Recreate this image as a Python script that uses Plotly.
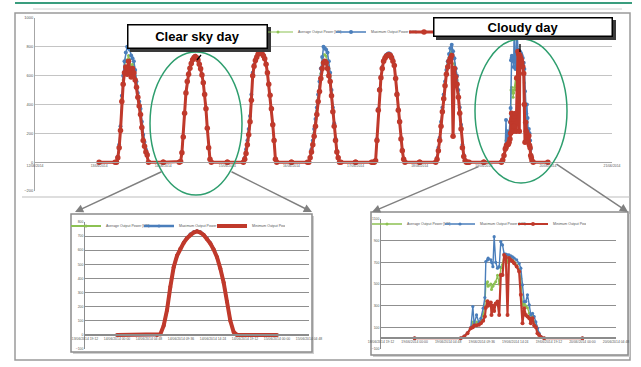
import datetime as dt
import plotly.graph_objects as go

W, H = 641, 367

# ---------------- data ----------------
AXIS_START = "2014-06-12"
AXIS_END = "2014-06-21"
DAY_DATES = ["2014-06-13", "2014-06-14", "2014-06-15", "2014-06-16",
             "2014-06-17", "2014-06-18", "2014-06-19"]
CLEAR_DATE = "2014-06-14"
CLOUDY_DATE = "2014-06-19"
SERIES_NAMES = ["Average Output Power [kW]", "Maximum Output Power [kW]",
                "Minimum Output Power [kW]"]
MAIN_Y_TICKS = [-200, 0, 200, 400, 600, 800, 1000]
CLEAR_Y_TICKS = [-100, 0, 100, 200, 300, 400, 500, 600, 700, 800]
CLOUDY_Y_TICKS = [-100, 100, 300, 500, 700, 900, 1100]

# half-hour grid used for the ordinary days (hours after midnight)
DAY_HOURS = [0, 6.0, 6.5, 7.0, 7.5, 8.0, 8.5, 9.0, 9.5, 10.0, 10.5, 11.0, 11.5,
             12.0, 12.5, 13.0, 13.5, 14.0, 14.5, 15.0, 15.5, 16.0, 16.5, 17.0,
             17.5, 18.0, 18.5, 24]

D1_MIN = [0, 0, 0, 30, 100, 220, 420, 540, 620, 660, 610, 700, 640, 590, 650, 620,
          570, 520, 450, 390, 330, 240, 150, 110, 70, 50, 0, 0]
D1_MAX = [0, 0, 0, 40, 120, 250, 460, 600, 700, 760, 800, 790, 780, 740, 720, 700,
          640, 560, 480, 420, 370, 280, 190, 140, 90, 60, 0, 0]
D1_AVG = [0, 0, 0, 35, 110, 235, 440, 570, 660, 710, 700, 740, 710, 660, 680, 660,
          600, 540, 465, 405, 350, 260, 170, 125, 80, 55, 0, 0]

D3_MIN = [0, 0, 20, 60, 120, 190, 280, 430, 600, 665, 705, 728, 748, 758, 760, 752,
          738, 718, 680, 620, 540, 465, 370, 260, 150, 20, 0, 0]
D3_MAX = [0, 0, 30, 90, 150, 230, 320, 470, 620, 675, 712, 735, 755, 765, 768, 758,
          745, 722, 684, 624, 545, 470, 375, 265, 155, 25, 0, 0]
D3_AVG = [0, 0, 25, 75, 135, 210, 300, 450, 610, 670, 708, 731, 751, 761, 764, 755,
          741, 720, 682, 622, 542, 467, 372, 262, 152, 22, 0, 0]

D4_MIN = [0, 0, 0, 30, 70, 120, 180, 250, 330, 420, 490, 580, 650, 690, 700, 690,
          650, 600, 560, 460, 350, 250, 150, 70, 30, 0, 0, 0]
D4_MAX = [0, 0, 0, 35, 90, 150, 230, 300, 380, 470, 560, 650, 730, 800, 790, 780,
          760, 700, 620, 500, 380, 270, 165, 80, 35, 0, 0, 0]
D4_AVG = [0, 0, 0, 32, 80, 135, 205, 275, 355, 445, 525, 615, 690, 745, 745, 735,
          705, 650, 590, 480, 365, 260, 158, 75, 32, 0, 0, 0]

D5_MIN = [0, 0, 0, 0, 10, 150, 360, 500, 585, 650, 700, 720, 735, 742, 745, 742,
          725, 700, 670, 580, 470, 360, 280, 160, 80, 20, 0, 0]
D5_MAX = [0, 0, 0, 0, 15, 160, 370, 510, 595, 660, 710, 730, 745, 752, 755, 750,
          735, 710, 678, 588, 478, 368, 288, 168, 88, 25, 0, 0]
D5_AVG = [0, 0, 0, 0, 12, 155, 365, 505, 590, 655, 705, 725, 740, 747, 750, 746,
          730, 705, 674, 584, 474, 364, 284, 164, 84, 22, 0, 0]

D6_MIN = [0, 0, 20, 80, 150, 250, 350, 440, 530, 610, 660, 700, 720, 740, 180, 650,
          590, 540, 450, 340, 230, 100, 40, 10, 0, 0, 0, 0]
D6_MAX = [0, 0, 30, 100, 170, 280, 380, 470, 560, 640, 700, 750, 790, 815, 770, 720,
          650, 600, 500, 380, 260, 120, 50, 15, 0, 0, 0, 0]
D6_AVG = [0, 0, 25, 90, 160, 265, 365, 455, 545, 625, 680, 725, 755, 778, 480, 685,
          620, 570, 475, 360, 245, 110, 45, 12, 0, 0, 0, 0]

# clear sky day (inset 1)
CLEAR_HOURS = [0, 6.0, 6.5, 7.0, 7.5, 8.0, 8.5, 9.0, 9.5, 10.0, 10.5, 11.0, 11.5,
               12.0, 12.5, 13.0, 13.5, 14.0, 14.5, 15.0, 15.5, 16.0, 16.5, 17.0,
               17.5, 18.0, 24]
CLEAR_MIN = [0, 0, 5, 65, 175, 340, 480, 560, 610, 652, 685, 710, 725, 733, 725, 708,
             680, 648, 605, 550, 470, 370, 235, 100, 20, 0, 0]
CLEAR_MAX = [0, 0, 6, 68, 180, 345, 486, 566, 616, 658, 691, 716, 731, 738, 731, 714,
             686, 654, 611, 556, 476, 376, 240, 104, 22, 0, 0]
CLEAR_AVG = [0, 0, 5, 66, 178, 343, 483, 563, 613, 655, 688, 713, 728, 736, 728, 711,
             683, 651, 608, 553, 473, 373, 238, 102, 21, 0, 0]

# cloudy day (inset 2)
CLOUDY_HOURS = [0, 6.6, 7.1, 7.57, 8.05, 8.33, 8.52, 8.86, 9.2, 9.48, 9.81, 10.05,
                10.19, 10.43, 10.52, 10.9, 11.0, 11.2, 11.38, 11.6, 11.86, 12.1,
                12.33, 12.57, 12.81, 13.05, 13.29, 13.5, 13.76, 14.0, 14.24, 14.6,
                14.95, 15.19, 15.43, 15.67, 15.9, 16.14, 16.4, 16.62, 16.86, 17.1,
                17.34, 17.57, 17.8, 18.05, 18.52, 24]
CLOUDY_MIN = [0, 0, 15, 46, 92, 100, 117, 120, 125, 138, 160, 200, 280, 340, 300, 330,
              215, 300, 250, 320, 338, 215, 584, 584, 768, 750, 215, 740, 722, 710,
              692, 661, 615, 400, 138, 277, 215, 200, 184, 138, 184, 117, 100, 46,
              30, 10, 0, 0]
CLOUDY_AVG = [0, 0, 18, 48, 95, 150, 120, 150, 132, 160, 220, 290, 500, 520, 480, 500,
              450, 480, 500, 520, 580, 500, 650, 680, 770, 760, 700, 750, 735, 720,
              705, 675, 630, 550, 300, 320, 300, 280, 230, 160, 200, 150, 120, 60,
              35, 12, 0, 0]
CLOUDY_MAX = [0, 0, 20, 50, 100, 292, 125, 215, 140, 184, 277, 375, 707, 722, 738, 723,
              700, 660, 937, 700, 646, 660, 891, 861, 778, 775, 770, 768, 760, 750,
              738, 722, 690, 646, 492, 338, 338, 400, 307, 215, 230, 200, 150, 92,
              46, 16, 0, 0]

# ---------------- helpers ----------------
def px(x):
    return x / W


def py(y):
    return 1 - y / H


def stamp(date_str, hours):
    d0 = dt.datetime.fromisoformat(date_str)
    return [d0 + dt.timedelta(hours=h) for h in hours]


COL_AVG = "#8CC152"
COL_MAX = "#4A7EBB"
COL_MIN = "#C0392B"
FONT = "Liberation Sans, Arial, sans-serif"

day_sets = [
    (DAY_DATES[0], DAY_HOURS, D1_AVG, D1_MAX, D1_MIN),
    (DAY_DATES[1], CLEAR_HOURS, CLEAR_AVG, CLEAR_MAX, CLEAR_MIN),
    (DAY_DATES[2], DAY_HOURS, D3_AVG, D3_MAX, D3_MIN),
    (DAY_DATES[3], DAY_HOURS, D4_AVG, D4_MAX, D4_MIN),
    (DAY_DATES[4], DAY_HOURS, D5_AVG, D5_MAX, D5_MIN),
    (DAY_DATES[5], DAY_HOURS, D6_AVG, D6_MAX, D6_MIN),
    (DAY_DATES[6], CLOUDY_HOURS, CLOUDY_AVG, CLOUDY_MAX, CLOUDY_MIN),
]
main_x, main_avg, main_max, main_min = [], [], [], []
for date, hrs, a, mx, mn in day_sets:
    main_x += stamp(date, hrs)
    main_avg += a
    main_max += mx
    main_min += mn

fig = go.Figure()


def add_series(x, ys, xa, ya, leg, widths, msizes):
    cols = [COL_AVG, COL_MAX, COL_MIN]
    for name, y, c, w, m in zip(SERIES_NAMES, ys, cols, widths, msizes):
        fig.add_trace(go.Scatter(
            x=x, y=y, name=name, mode="lines+markers",
            line=dict(color=c, width=w), marker=dict(color=c, size=m),
            xaxis=xa, yaxis=ya, legend=leg, legendgroup=leg + name,
            hoverinfo="skip"))


add_series(main_x, [main_avg, main_max, main_min], "x", "y", "legend",
           [1.2, 1.5, 3], [3, 4, 5.5])
cx = stamp(CLEAR_DATE, CLEAR_HOURS)
add_series(cx, [CLEAR_AVG, CLEAR_MAX, CLEAR_MIN], "x2", "y2", "legend2",
           [2, 2.5, 4], [3, 3, 4])
kx = stamp(CLOUDY_DATE, CLOUDY_HOURS)
add_series(kx, [CLOUDY_AVG, CLOUDY_MAX, CLOUDY_MIN], "x3", "y3", "legend3",
           [1.3, 1.4, 2.2], [3, 3.2, 4])

small = dict(family=FONT, size=3.4, color="#555555")
c0 = dt.datetime.fromisoformat(CLEAR_DATE)
k0 = dt.datetime.fromisoformat(CLOUDY_DATE)
step = dt.timedelta(hours=4.8)
span_end = dt.timedelta(hours=28.8)

layout = dict(
    template="none",
    width=W, height=H, margin=dict(l=0, r=0, t=0, b=0, autoexpand=False),
    paper_bgcolor="white", plot_bgcolor="rgba(0,0,0,0)",
    font=dict(family=FONT), hovermode=False,
    xaxis=dict(domain=[px(35), px(612)], type="date", automargin=False,
               range=[AXIS_START, AXIS_END], tick0=AXIS_START, dtick=86400000,
               tickformat="%d/%m/%Y", anchor="free", position=py(162),
               showline=True, linecolor="#a6a6a6", linewidth=1, showgrid=False,
               zeroline=False, ticks="", tickfont=small),
    yaxis=dict(domain=[py(191), py(18)], range=[-200, 1000], tickvals=MAIN_Y_TICKS,
               anchor="x", showline=True, linecolor="#a6a6a6", linewidth=1,
               automargin=False, showgrid=True, gridcolor="#c4c4c4", gridwidth=1,
               zeroline=False, ticks="", tickfont=dict(family=FONT, size=4, color="#555")),
    xaxis2=dict(domain=[px(85), px(309)], type="date", automargin=False,
                range=[c0 - step, c0 + span_end], tick0=c0 - step,
                dtick=17280000, tickformat="%d/%m/%Y %H:%M", anchor="free",
                position=py(335), showline=True, linecolor="#8c8c8c", linewidth=1.5,
                showgrid=False, zeroline=False, ticks="", tickfont=small),
    yaxis2=dict(domain=[py(349), py(222)], range=[-100, 800], tickvals=CLEAR_Y_TICKS,
                anchor="x2", showline=True, linecolor="#8c8c8c", linewidth=1,
                automargin=False, showgrid=True, gridcolor="#8f8f8f", gridwidth=1.3,
                zeroline=False, ticks="", tickfont=small),
    xaxis3=dict(domain=[px(381), px(616)], type="date", automargin=False,
                range=[k0 - step, k0 + span_end], tick0=k0 - step,
                dtick=17280000, tickformat="%d/%m/%Y %H:%M", anchor="free",
                position=py(338), showline=True, linecolor="#8c8c8c", linewidth=1.5,
                showgrid=False, zeroline=False, ticks="", tickfont=small),
    yaxis3=dict(domain=[py(349), py(219)], range=[-100, 1100], tickvals=CLOUDY_Y_TICKS,
                anchor="x3", showline=True, linecolor="#8c8c8c", linewidth=1,
                automargin=False, showgrid=True, gridcolor="#8f8f8f", gridwidth=1.3,
                zeroline=False, ticks="", tickfont=small),
)
for key, lx, ly in [("legend", 258, 32), ("legend2", 66, 226), ("legend3", 367, 224)]:
    layout[key] = dict(x=px(lx), y=py(ly), xanchor="left", yanchor="middle",
                       orientation="h", bgcolor="rgba(0,0,0,0)", borderwidth=0,
                       font=dict(family=FONT, size=3.5, color="#555"),
                       entrywidth=28, entrywidthmode="pixels", itemwidth=30)
fig.update_layout(**layout)

# ---------------- decorations ----------------
def rect(x0, y0, x1, y1, line=None, fill=None, layer="above"):
    fig.add_shape(type="rect", xref="paper", yref="paper",
                  x0=px(x0), x1=px(x1), y0=py(y1), y1=py(y0),
                  line=line or dict(width=0), fillcolor=fill or "rgba(0,0,0,0)",
                  layer=layer)


def seg(x0, y0, x1, y1, color, width, layer="above"):
    fig.add_shape(type="line", xref="paper", yref="paper",
                  x0=px(x0), x1=px(x1), y0=py(y0), y1=py(y1),
                  line=dict(color=color, width=width), layer=layer)


seg(15, 3, 632, 3, "#3A9D7E", 2)
seg(33, 9, 622, 9, "#d0d0d0", 1)
rect(15, 13, 630, 360, line=dict(color="#9a9a9a", width=1.5), layer="below")
seg(22, 197, 630, 197, "#bdbdbd", 1, layer="below")

# inset frames with soft shadow
rect(73, 216, 314, 354, fill="#cfcfcf", layer="below")
rect(71, 214, 312, 352, line=dict(color="#8c8c8c", width=1.5), fill="white", layer="below")
rect(373, 214, 630, 357, fill="#cfcfcf", layer="below")
rect(371, 212, 628, 355, line=dict(color="#8c8c8c", width=1.5), fill="white", layer="below")

# ellipses
for x0, y0, x1, y1 in [(150, 52, 242, 195), (475, 39, 567, 183)]:
    fig.add_shape(type="circle", xref="paper", yref="paper",
                  x0=px(x0), x1=px(x1), y0=py(y1), y1=py(y0),
                  line=dict(color="#2E9E6E", width=1.5), layer="above")

# small black pointer marks at the two highlighted peaks
seg(197, 60, 201, 55, "black", 1.3)
seg(520, 44, 520, 52, "black", 1.3)

# label box shadows
rect(130, 27, 271, 52, fill="#3a3a3a")
rect(436, 20, 616, 40, fill="#3a3a3a")

fig.add_annotation(x=px(197.5), y=py(36.5), xref="paper", yref="paper",
                   xanchor="center", yanchor="middle",
                   text="<b>Clear sky day</b>", showarrow=False,
                   font=dict(family=FONT, size=13, color="black"),
                   bgcolor="white", bordercolor="black", borderwidth=1.5,
                   borderpad=0, width=138, height=22)
fig.add_annotation(x=px(523), y=py(27), xref="paper", yref="paper",
                   xanchor="center", yanchor="middle",
                   text="<b>Cloudy day</b>", showarrow=False,
                   font=dict(family=FONT, size=13, color="black"),
                   bgcolor="white", bordercolor="black", borderwidth=1.5,
                   borderpad=0, width=177, height=17)

# connector arrows (head on inset corner, tail on ellipse)
for hx, hy, tx, ty in [(75, 212, 163, 171), (312, 212, 230, 171),
                       (372, 212, 480, 166), (628, 212, 555, 163)]:
    fig.add_annotation(x=px(hx), y=py(hy), xref="paper", yref="paper",
                       ax=tx - hx, ay=ty - hy, text="", showarrow=True,
                       arrowhead=2, arrowsize=1.1, arrowwidth=1.5,
                       arrowcolor="#808080")

fig.write_html("out.html", config={"displayModeBar": False},
               post_script="document.body.style.margin='0';"
                           "document.body.style.overflow='hidden';")
